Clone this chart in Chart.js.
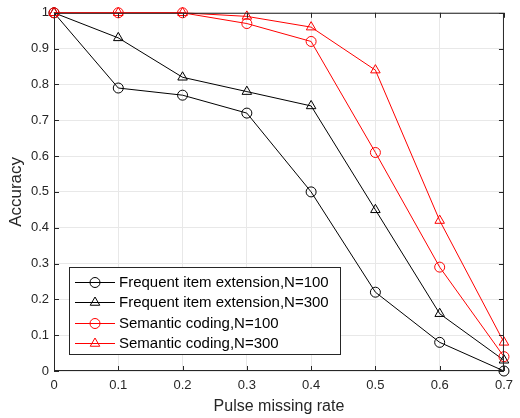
<!DOCTYPE html>
<html>
<head>
<meta charset="utf-8">
<script src="https://cdn.jsdelivr.net/npm/chart.js@4/dist/chart.umd.min.js"></script>
<style>
  html, body { margin: 0; padding: 0; background: #fff; }
  #wrap { width: 520px; height: 418px; position: relative; }
</style>
</head>
<body>
<div id="wrap"><canvas id="chart" width="520" height="418"></canvas></div>
<script>
// x: pulse missing rate, y: accuracy
const missingRate = [0, 0.1, 0.2, 0.3, 0.4, 0.5, 0.6, 0.7];
const fieN100 = [1.00, 0.79, 0.77, 0.72, 0.50, 0.22, 0.08, 0.00];
const fieN300 = [1.00, 0.93, 0.82, 0.78, 0.74, 0.45, 0.16, 0.03];
const scN100  = [1.00, 1.00, 1.00, 0.97, 0.92, 0.61, 0.29, 0.04];
const scN300  = [1.00, 1.00, 1.00, 0.99, 0.96, 0.84, 0.42, 0.08];
const seriesNames = [
  'Frequent item extension,N=100',
  'Frequent item extension,N=300',
  'Semantic coding,N=100',
  'Semantic coding,N=300'
];
const xTicks = [0, 0.1, 0.2, 0.3, 0.4, 0.5, 0.6, 0.7];
const yTicks = [0, 0.1, 0.2, 0.3, 0.4, 0.5, 0.6, 0.7, 0.8, 0.9, 1];

const AXIS = '#262626';
const GRID = '#e8e8e8';
const FONT = '"Liberation Sans", Arial, Helvetica, sans-serif';

function pts(ys) {
  return ys.map((y, i) => ({ x: missingRate[i], y }));
}

function series(label, ys, color, marker, order) {
  return {
    label,
    data: pts(ys),
    borderColor: color,
    backgroundColor: 'rgba(0,0,0,0)',
    borderWidth: 1,
    pointStyle: marker,
    pointRadius: marker === 'triangle' ? 5.5 : 5,
    pointBorderWidth: 1,
    pointBorderColor: color,
    pointBackgroundColor: 'rgba(0,0,0,0)',
    tension: 0,
    clip: false,
    order
  };
}

// MATLAB-like box, inward ticks and legend inside the axes
const matlabBox = {
  id: 'matlabBox',
  afterDraw(chart) {
    const { ctx, chartArea: a, scales: { x, y } } = chart;
    ctx.save();
    ctx.strokeStyle = AXIS;
    ctx.lineWidth = 1;
    ctx.strokeRect(a.left + 0.5, a.top + 0.5, a.right - a.left - 1, a.bottom - a.top - 1);
    const tl = 5;
    ctx.beginPath();
    xTicks.forEach(v => {
      const px = Math.round(x.getPixelForValue(v)) + 0.5;
      ctx.moveTo(px, a.bottom); ctx.lineTo(px, a.bottom - tl);
      ctx.moveTo(px, a.top); ctx.lineTo(px, a.top + tl);
    });
    yTicks.forEach(v => {
      const py = Math.round(y.getPixelForValue(v)) + 0.5;
      ctx.moveTo(a.left, py); ctx.lineTo(a.left + tl, py);
      ctx.moveTo(a.right, py); ctx.lineTo(a.right - tl, py);
    });
    ctx.stroke();

    // legend
    const lx = 69, ly = 267, lw = 271, lh = 87;
    ctx.fillStyle = '#fff';
    ctx.fillRect(lx, ly, lw, lh);
    ctx.strokeStyle = '#262626';
    ctx.strokeRect(lx + 0.5, ly + 0.5, lw, lh);
    ctx.font = '15px ' + FONT;
    ctx.textBaseline = 'middle';
    chart.data.datasets.forEach((ds, i) => {
      const cy = Math.round(ly + 14.7 + i * 20.5) + 0.5;
      ctx.strokeStyle = ds.borderColor;
      ctx.beginPath();
      ctx.moveTo(75, cy); ctx.lineTo(115, cy);
      ctx.stroke();
      ctx.fillStyle = 'rgba(0,0,0,0)';
      Chart.helpers.drawPoint(ctx, {
        pointStyle: ds.pointStyle, radius: ds.pointRadius, borderWidth: 1
      }, 95, cy);
      ctx.fillStyle = '#000';
      ctx.fillText(ds.label, 119, cy);
    });
    ctx.restore();
  }
};

new Chart(document.getElementById('chart'), {
  type: 'line',
  data: {
    datasets: [
      series(seriesNames[0], fieN100, '#000000', 'circle', 3),
      series(seriesNames[1], fieN300, '#000000', 'triangle', 2),
      series(seriesNames[2], scN100, '#ff0000', 'circle', 1),
      series(seriesNames[3], scN300, '#ff0000', 'triangle', 0)
    ]
  },
  options: {
    responsive: false,
    animation: false,
    layout: { padding: { left: 0, top: 11, right: 9, bottom: 0 } },
    plugins: { legend: { display: false }, tooltip: { enabled: false } },
    scales: {
      x: {
        type: 'linear',
        min: 0, max: 0.7,
        afterBuildTicks: s => { s.ticks = xTicks.map(v => ({ value: v })); },
        afterFit: s => { s.height = 47; },
        grid: { color: GRID, drawTicks: false },
        border: { display: false },
        ticks: {
          color: AXIS, padding: 7,
          font: { family: FONT, size: 13 },
          callback: v => String(Math.round(v * 10) / 10)
        },
        title: {
          display: true, text: 'Pulse missing rate', color: AXIS,
          font: { family: FONT, size: 16 }, padding: { top: 0, bottom: 2 }
        }
      },
      y: {
        type: 'linear',
        min: 0, max: 1,
        afterBuildTicks: s => { s.ticks = yTicks.map(v => ({ value: v })); },
        afterFit: s => { s.width = 54; },
        grid: { color: GRID, drawTicks: false },
        border: { display: false },
        ticks: {
          color: AXIS, padding: 5,
          font: { family: FONT, size: 13 },
          callback: v => String(Math.round(v * 10) / 10)
        },
        title: {
          display: true, text: 'Accuracy', color: AXIS,
          font: { family: FONT, size: 17 }, padding: { top: 6, bottom: 0 }
        }
      }
    }
  },
  plugins: [matlabBox]
});
</script>
</body>
</html>
